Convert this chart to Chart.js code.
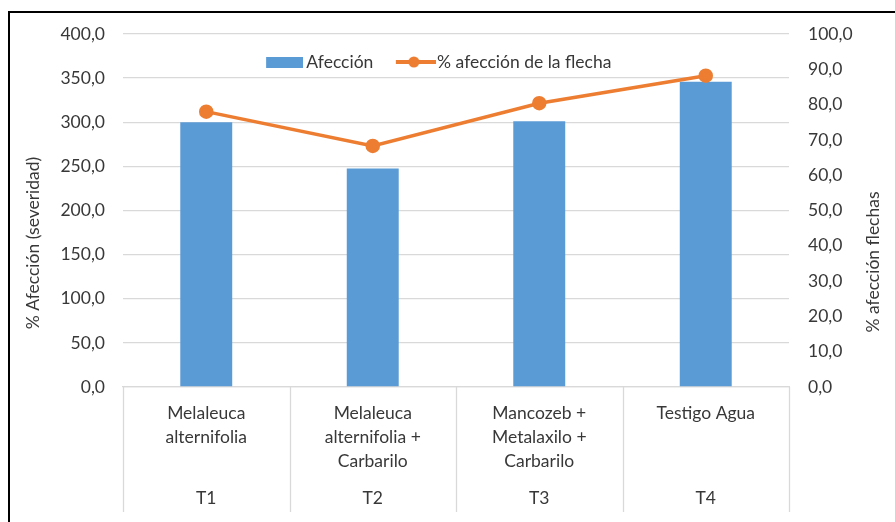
<!DOCTYPE html>
<html>
<head>
<meta charset="utf-8">
<script src="https://cdn.jsdelivr.net/npm/chart.js@4.4.1/dist/chart.umd.min.js"></script>
<style>
  html, body { margin: 0; padding: 0; background: #ffffff; }
  #wrap { position: relative; width: 895px; height: 522px; }
</style>
</head>
<body>
<div id="wrap"><canvas id="c" width="895" height="522"></canvas></div>
<script>
// ---- data ----
const categories = [
  ['Melaleuca', 'alternifolia'],
  ['Melaleuca', 'alternifolia +', 'Carbarilo'],
  ['Mancozeb +', 'Metalaxilo +', 'Carbarilo'],
  ['Testigo Agua']
];
const treatmentCodes = ['T1', 'T2', 'T3', 'T4'];
const afeccion = [300.0, 247.5, 301.0, 346.0];
const afeccionFlecha = [78.0, 68.3, 80.4, 88.2];
const leftTicks = [0, 50, 100, 150, 200, 250, 300, 350, 400];
const rightTicks = [0, 10, 20, 30, 40, 50, 60, 70, 80, 90, 100];
const seriesNames = ['Afección', '% afección de la flecha'];
const leftTitle = '% Afección (severidad)';
const rightTitle = '% afección flechas';

// ---- style ----
const FONT = 'Lato, "Open Sans", sans-serif';
const FS = 17.5;
const TXT = '#383838';
const GRID = '#d9d9d9';
const BLUE = '#5b9bd5';
const ORANGE = '#ed7d31';

const fmt = v => Number(v).toFixed(1).replace('.', ',');

// legend symbols
function barSymbol() {
  const c = document.createElement('canvas');
  c.width = 60; c.height = 11;
  const g = c.getContext('2d');
  g.fillStyle = BLUE;
  g.fillRect(23, 0, 37, 11);
  return c;
}
function lineSymbol() {
  const c = document.createElement('canvas');
  c.width = 64; c.height = 12;
  const g = c.getContext('2d');
  g.strokeStyle = ORANGE; g.lineWidth = 4;
  g.beginPath(); g.moveTo(24, 6); g.lineTo(64, 6); g.stroke();
  g.fillStyle = ORANGE;
  g.beginPath(); g.arc(42, 6, 5.5, 0, Math.PI * 2); g.fill();
  return c;
}
const symBar = barSymbol();
const symLine = lineSymbol();

const decor = {
  id: 'decor',
  afterLayout(chart) {
    const l = chart.legend;
    if (l) { l.top += 46.75; l.bottom += 46.75; l.left -= 17.5; l.right -= 17.5; }
  },
  afterDraw(chart) {
    const ctx = chart.ctx;
    const a = chart.chartArea;
    const n = categories.length;
    const w = (a.right - a.left) / n;
    ctx.save();
    // category separators
    ctx.strokeStyle = GRID; ctx.lineWidth = 1.3;
    for (let i = 0; i <= n; i++) {
      const x = Math.round(a.left + i * w) + 0.5;
      ctx.beginPath(); ctx.moveTo(x, a.bottom); ctx.lineTo(x, 512); ctx.stroke();
    }
    // frame (left & top)
    ctx.fillStyle = '#000000';
    ctx.fillRect(8, 11, 2, 522 - 11);
    ctx.fillRect(8, 11, 895 - 8, 2);
    // axis titles
    ctx.fillStyle = TXT;
    ctx.font = FS + 'px ' + FONT;
    ctx.textAlign = 'center'; ctx.textBaseline = 'middle';
    ctx.save(); ctx.translate(33, 243); ctx.rotate(-Math.PI / 2); ctx.fillText(leftTitle, 0, 0); ctx.restore();
    ctx.save(); ctx.translate(873, 262); ctx.rotate(-Math.PI / 2); ctx.fillText(rightTitle, 0, 0); ctx.restore();
    ctx.restore();
  }
};

Chart.defaults.font.family = FONT;
Chart.defaults.font.size = FS;
Chart.defaults.color = TXT;

new Chart(document.getElementById('c'), {
  type: 'bar',
  data: {
    labels: categories,
    datasets: [
      {
        type: 'bar',
        label: seriesNames[0],
        data: afeccion,
        backgroundColor: BLUE,
        yAxisID: 'y',
        xAxisID: 'x',
        barPercentage: 0.312,
        categoryPercentage: 1.0,
        order: 1
      },
      {
        type: 'line',
        label: seriesNames[1],
        data: afeccionFlecha,
        borderColor: ORANGE,
        backgroundColor: ORANGE,
        borderWidth: 3.5,
        pointRadius: 5.5,
        pointBackgroundColor: ORANGE,
        pointBorderColor: ORANGE,
        tension: 0,
        yAxisID: 'y1',
        xAxisID: 'x',
        order: 0
      }
    ]
  },
  options: {
    responsive: false,
    animation: false,
    layout: { padding: { top: 0.5, left: 0, right: 0, bottom: 0 } },
    plugins: {
      tooltip: { enabled: false },
      legend: {
        position: 'top',
        align: 'center',
        labels: {
          usePointStyle: true,
          pointStyleWidth: 49,
          padding: 6,
          color: TXT,
          font: { size: FS, family: FONT },
          generateLabels(chart) {
            return [
              { text: seriesNames[0], pointStyle: symBar, fillStyle: BLUE, strokeStyle: BLUE, lineWidth: 0, hidden: false, datasetIndex: 0, fontColor: TXT },
              { text: seriesNames[1], pointStyle: symLine, fillStyle: ORANGE, strokeStyle: ORANGE, lineWidth: 0, hidden: false, datasetIndex: 1, fontColor: TXT }
            ];
          }
        }
      }
    },
    scales: {
      x: {
        type: 'category',
        position: 'bottom',
        weight: 0,
        offset: true,
        grid: { display: false, drawTicks: false },
        border: { display: true, color: GRID, width: 1.3 },
        ticks: { padding: 14, maxRotation: 0, autoSkip: false, color: TXT, font: { size: FS, lineHeight: '24px' } },
        afterFit(s) { s.height = 98; }
      },
      x2: {
        type: 'category',
        position: 'bottom',
        weight: 1,
        offset: true,
        labels: treatmentCodes,
        grid: { display: false, drawTicks: false },
        border: { display: false },
        ticks: { padding: 1, maxRotation: 0, autoSkip: false, color: TXT, font: { size: FS, lineHeight: '24px' } },
        afterFit(s) { s.height = 37; }
      },
      y: {
        type: 'linear',
        position: 'left',
        min: leftTicks[0],
        max: leftTicks[leftTicks.length - 1],
        afterBuildTicks(s) { s.ticks = leftTicks.map(v => ({ value: v })); },
        grid: { color: GRID, lineWidth: 1.3, drawTicks: false },
        border: { display: false },
        ticks: { padding: 18, color: TXT, callback: fmt },
        afterFit(s) { s.width = 123; }
      },
      y1: {
        type: 'linear',
        position: 'right',
        min: rightTicks[0],
        max: rightTicks[rightTicks.length - 1],
        afterBuildTicks(s) { s.ticks = rightTicks.map(v => ({ value: v })); },
        grid: { drawOnChartArea: false, drawTicks: false },
        border: { display: false },
        ticks: { padding: 19, color: TXT, callback: fmt },
        afterFit(s) { s.width = 106; }
      }
    }
  },
  plugins: [decor]
});
</script>
</body>
</html>
